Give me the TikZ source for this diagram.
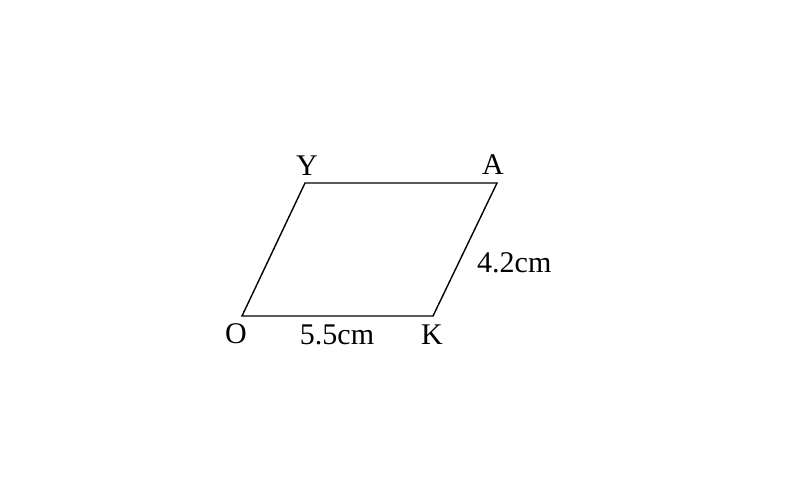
\documentclass[tikz,border=0pt]{standalone}
\usepackage{fontspec}
\setmainfont{Liberation Serif}
\begin{document}
\begin{tikzpicture}[x=1pt,y=-1pt,
  lbl/.style={inner sep=0pt,anchor=base,font=\fontsize{30}{36}\selectfont},
  edge/.style={line width=1.4pt,line join=miter}]
\useasboundingbox (0,0) rectangle (786,485);
\coordinate (O) at (242,316);
\coordinate (K) at (433,316);
\coordinate (A) at (497,183);
\coordinate (Y) at (305,183);
\draw[edge] (O) -- (K) -- (A) -- (Y) -- cycle;
\node[lbl] (lO) at (236,343) {O};
\node[lbl] (lK) at (432,344) {K};
\node[lbl] (lA) at (493,174) {A};
\node[lbl] (lY) at (307,175) {Y};
\node[lbl] (lOK) at (337,344) {5.5cm};
\node[lbl,anchor=base west] (lKA) at (477,272) {4.2cm};
\end{tikzpicture}
\end{document}
